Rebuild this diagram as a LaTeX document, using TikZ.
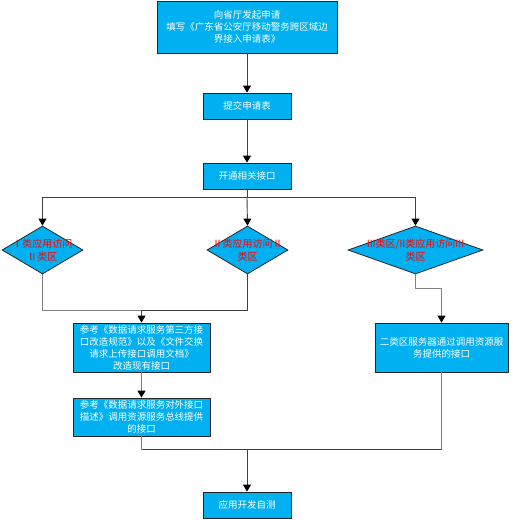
\documentclass[tikz,border=0pt]{standalone}
\usepackage{fontspec}
\setmainfont{Noto Sans CJK SC}
\usetikzlibrary{shapes.geometric,arrows.meta}
\definecolor{boxfill}{HTML}{00B0F0}
\definecolor{boxline}{HTML}{262626}
\definecolor{conn}{HTML}{404040}
\definecolor{conngray}{HTML}{808080}
\tikzset{
  box/.style={draw=boxline, fill=boxfill, line width=0.8pt, text=white,
    font=\fontsize{9.5}{12}\selectfont, align=center, inner sep=0pt},
  dia/.style={draw=boxline, fill=boxfill, line width=0.8pt, diamond, inner sep=0pt},
  dtext/.style={text=red, font=\fontsize{10}{13.5}\selectfont, align=center, inner sep=0pt},
  conline/.style={draw=conn, line width=0.9pt},
  grayline/.style={draw=conngray, line width=1pt},
  arr/.style={conline, -{Triangle[length=7pt,width=8pt,color=black]}},
  grayarr/.style={grayline, -{Triangle[length=7pt,width=8pt,color=black]}},
}
\begin{document}
\begin{tikzpicture}[x=1pt,y=-1pt]
\useasboundingbox[fill=white] (0,0) rectangle (513,520);
% nodes
\node[box, minimum width=180pt, minimum height=52pt] (n1) at (247,27)
  {向省厅发起申请\\填写《广东省公安厅移动警务跨区域边\\界接入申请表》};
\node[box, minimum width=88pt, minimum height=26pt] (n2) at (247,106) {提交申请表};
\node[box, minimum width=88pt, minimum height=26pt] (n3) at (247,176) {开通相关接口};
\node[dia, minimum width=81pt, minimum height=48pt] (d1) at (42.5,250) {};
\node[dia, minimum width=81pt, minimum height=48pt] (d2) at (247.5,250) {};
\node[dia, minimum width=135pt, minimum height=48pt] (d3) at (415.5,250) {};
\node[dtext] (t1) at (d1.center) {Ⅰ类应用访问\\Ⅱ类区};
\node[dtext] (t2) at (d2.center) {Ⅱ类应用访问Ⅱ\\类区};
\node[dtext] (t3) at (d3.center) {III类区/II类应用访问III\\类区};
\node[box, minimum width=137pt, minimum height=49pt] (b1) at (141.5,347.5)
  {参考《数据请求服务第三方接\\口改造规范》以及《文件交换\\请求上传接口调用文档》\\改造现有接口};
\node[box, minimum width=137pt, minimum height=38pt] (b2) at (141.5,417)
  {参考《数据请求服务对外接口\\描述》调用资源服务总线提供\\的接口};
\node[box, minimum width=133pt, minimum height=49pt] (b3) at (441.5,347.5)
  {二类区服务器通过调用资源服\\务提供的接口};
\node[box, minimum width=88pt, minimum height=26pt] (n4) at (247,505) {应用开发自测};
% junctions
\coordinate (j1) at (247,197);
\coordinate (j2) at (141.5,310);
\coordinate (j3) at (415.5,288);
\coordinate (j4) at (247,449);
% connectors
\draw[arr] (n1) -- (n2);
\draw[arr] (n2) -- (n3);
\draw[conline] (n3.south) -- (j1);
\draw[arr] (j1) -| (d1.north);
\draw[arr] (j1) -- (d2.north);
\draw[arr] (j1) -| (d3.north);
\draw[grayline] (d1.south) |- (j2);
\draw[conline] (d2.south) |- (j2);
\draw[arr] (j2) -- (b1.north);
\draw[grayarr] (d3.south) -- (j3) -| (b3.north);
\draw[grayarr] (b1.south) -- (b2.north);
\draw[grayline] (b2.south) |- (j4);
\draw[grayline] (b3.south) |- (j4);
\draw[conline] (b2.south |- j4) -- (b3.south |- j4);
\draw[arr] (j4) -- (n4.north);
\end{tikzpicture}
\end{document}
